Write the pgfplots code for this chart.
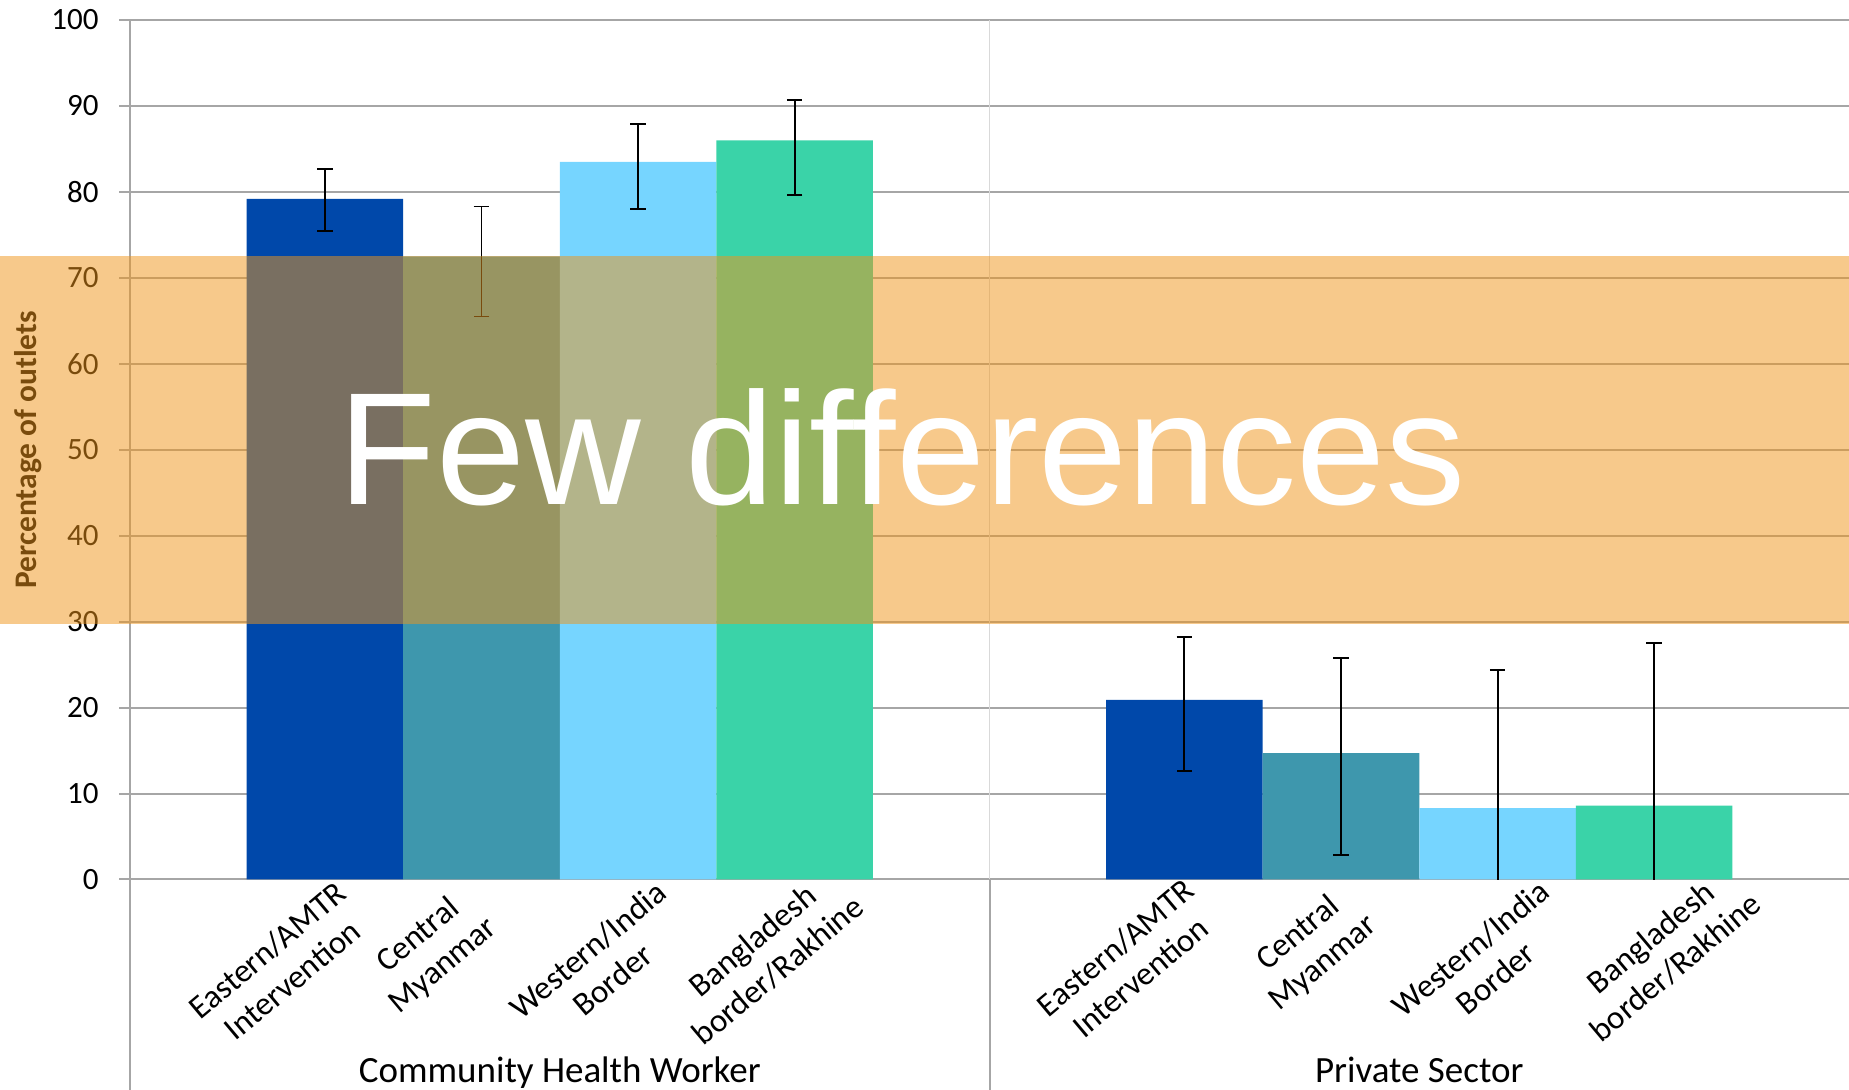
\documentclass[border=0pt]{standalone}
\usepackage{pgfplots}
\pgfplotsset{compat=1.18}
\usepackage{fontspec}
\setmainfont{Carlito}
\newfontfamily\arialfont{Liberation Sans}
\usetikzlibrary{calc}

\definecolor{cA}{HTML}{0048AA}
\definecolor{cB}{HTML}{3E97AD}
\definecolor{cC}{HTML}{76D5FF}
\definecolor{cD}{HTML}{3AD3A8}
\definecolor{gridgray}{HTML}{A6A6A6}
\definecolor{gridlight}{HTML}{D9D9D9}
\definecolor{bandcol}{RGB}{239,149,27}

\begin{document}
\begin{tikzpicture}
\begin{axis}[
  name=ax,
  scale only axis,
  width=859.5pt, height=429.75pt,
  xmin=-0.5, xmax=1.5, ymin=0, ymax=100,
  axis x line*=bottom, axis y line*=left,
  axis line style={gridgray, line width=1pt, -},
  xtick=\empty,
  ytick={0,10,...,100},
  ymajorgrids,
  grid style={gridgray, line width=1pt},
  tick align=outside,
  major tick length=5.5pt,
  y tick style={gridgray, line width=1pt},
  /pgf/number format/assume math mode=true,
  yticklabel style={font=\fontsize{15.5}{18}\selectfont, anchor=east, inner sep=0pt, xshift=-10pt},
  every axis plot/.append style={ybar, bar width=78.3pt, bar shift=0pt, draw=none},
  error bars/error bar style={line width=0.95pt, black},
  error bars/error mark=-,
  error bars/error mark options={rotate=90, black, line width=0.95pt, mark size=3.9pt},
]
\addplot[fill=cA, error bars/.cd, y dir=both, y explicit]
  coordinates {(-0.2733,79.2) += (0,3.5) -= (0,3.8) (0.7267,20.9) += (0,7.3) -= (0,8.3)};
\addplot[fill=cB, error bars/.cd, y dir=both, y explicit]
  coordinates {(-0.0911,72.5) += (0,5.8) -= (0,7.0) (0.9089,14.7) += (0,11.1) -= (0,11.8)};
\addplot[fill=cC, error bars/.cd, y dir=both, y explicit]
  coordinates {(0.0911,83.5) += (0,4.4) -= (0,5.5) (1.0911,8.3) += (0,16.1) -= (0,12)};
\addplot[fill=cD, error bars/.cd, y dir=both, y explicit]
  coordinates {(0.2733,86.0) += (0,4.7) -= (0,6.4) (1.2733,8.6) += (0,18.9) -= (0,12)};
\end{axis}

% separators
\draw[gridlight, line width=0.6pt] ($(ax.south west)+(429.75pt,0)$) -- ($(ax.north west)+(429.75pt,0)$);
\draw[gridgray, line width=1pt] ($(ax.south west)+(429.75pt,0)$) -- ++(0,-105.25pt);
\draw[gridgray, line width=1pt] (ax.south west) -- ++(0,-105.25pt);

% y label
\node[rotate=90, font=\bfseries\fontsize{15.7}{18}\selectfont] at ($(ax.west)+(-51pt,0)$) {Percentage of outlets};

% category labels
\tikzset{catlab/.style={rotate=40, anchor=center, align=center, inner sep=0pt,
  font=\fontsize{16.5}{19.5}\selectfont}}
\foreach \xx/\yy/\lab in {74.75/-42.8/{Eastern/AMTR\\Intervention}, 150.5/-35.8/{Central\\Myanmar},
  235.05/-42.65/{Western/India\\Border}, 317.65/-38.15/{Bangladesh\\border/Rakhine},
  498.95/-41.4/{Eastern/AMTR\\Intervention}, 590.5/-34.5/{Central\\Myanmar},
  676.4/-41.9/{Western/India\\Border}, 766.45/-36.35/{Bangladesh\\border/Rakhine}}
  {\node[catlab] at ($(ax.south west)+(\xx pt,\yy pt)$) {\lab};}

\node[anchor=base, font=\fontsize{18.5}{22}\selectfont] at ($(ax.south west)+(214.875pt,-101.25pt)$) {Community Health Worker};
\node[anchor=base, font=\fontsize{18.5}{22}\selectfont] at ($(ax.south west)+(644.625pt,-101.25pt)$) {Private Sector};

% overlay band
\fill[bandcol, opacity=0.51] ($(ax.south west)+(-65pt,127.6pt)$) rectangle ($(ax.south east)+(0,311.6pt)$);
\node[anchor=base, text=white, inner sep=0pt, font=\arialfont\fontsize{80}{92}\selectfont] at ($(ax.south west)+(386pt,187.25pt)$) {Few differences};

\pgfresetboundingbox
\path ($(ax.south west)+(-65pt,-105.25pt)$) rectangle ($(ax.north east)+(0,10pt)$);
\end{tikzpicture}
\end{document}
